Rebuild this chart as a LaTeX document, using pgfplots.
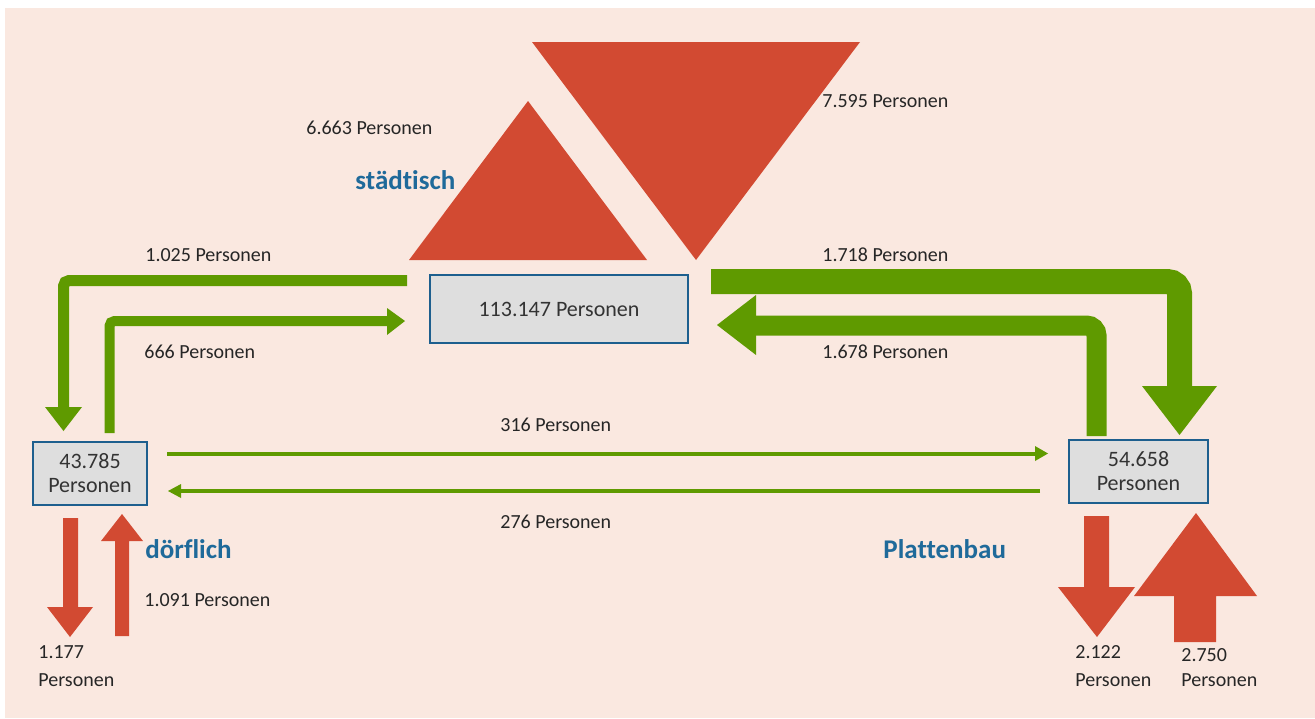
\documentclass[border=0pt]{standalone}
\usepackage{fontspec}
\setmainfont{Carlito}[Ligatures={NoCommon}]
\usepackage{pgfplots}
\pgfplotsset{compat=1.18}
\definecolor{bg}{HTML}{FAE8E0}
\definecolor{flowred}{HTML}{D24A32}
\definecolor{flowgreen}{HTML}{5F9A00}
\definecolor{labelblue}{HTML}{1F6A9A}
\definecolor{boxblue}{HTML}{1D5F8E}
\definecolor{boxgray}{HTML}{DEDEDE}
\begin{document}
\begin{tikzpicture}
\begin{axis}[scale only axis,width=657.5pt,height=359pt,
  xmin=0,xmax=1315,ymin=0,ymax=718,y dir=reverse,hide axis,clip=false]
% keep the full page frame in the bounding box
\addplot[draw=none] coordinates {(0,0)(1315,718)};
% background
\addplot[fill=bg,draw=none] coordinates {(5,8)(1315,8)(1315,718)(5,718)} --cycle;
% red triangles (städtisch)
\addplot[fill=flowred,draw=none] coordinates {(528,101)(647,260)(409,260)} --cycle;
\addplot[fill=flowred,draw=none] coordinates {(532,42)(860,42)(696,260)} --cycle;
% red arrows (dörflich, Plattenbau)
\addplot[fill=flowred,draw=none] coordinates {(63,518)(78,518)(78,607)(93,607)(70,637)(47,607)(63,607)} --cycle;
\addplot[fill=flowred,draw=none] coordinates {(115,636)(129,636)(129,541)(143,541)(122,514)(101,541)(115,541)} --cycle;
\addplot[fill=flowred,draw=none] coordinates {(1084,516)(1109,516)(1109,587)(1135,587)(1097,637)(1058,587)(1084,587)} --cycle;
\addplot[fill=flowred,draw=none] coordinates {(1174,642)(1216,642)(1216,596)(1257,596)(1196,513)(1134,596)(1174,596)} --cycle;
% green flows
\addplot[draw=flowgreen,line width=5.5pt,rounded corners=2.75pt] coordinates {(407,280.5)(63.5,280.5)(63.5,408)};
\addplot[fill=flowgreen,draw=none] coordinates {(45,407)(82,407)(63.5,431)} --cycle;
\addplot[draw=flowgreen,line width=5pt,rounded corners=2.5pt] coordinates {(109.5,433)(109.5,321)(390,321)};
\addplot[fill=flowgreen,draw=none] coordinates {(387,308)(405,321)(387,335)} --cycle;
\addplot[draw=flowgreen,line width=12.5pt,rounded corners=6pt] coordinates {(711,281.5)(1179.5,281.5)(1179.5,387)};
\addplot[fill=flowgreen,draw=none] coordinates {(1142,386)(1217,386)(1179.5,435)} --cycle;
\addplot[draw=flowgreen,line width=10pt,rounded corners=5pt] coordinates {(1096.5,436)(1096.5,325.5)(755,325.5)};
\addplot[fill=flowgreen,draw=none] coordinates {(756,295)(756,355)(717,325)} --cycle;
\addplot[draw=flowgreen,line width=2pt] coordinates {(167,453.5)(1037,453.5)};
\addplot[fill=flowgreen,draw=none] coordinates {(1035,446)(1048,453.5)(1035,461)} --cycle;
\addplot[draw=flowgreen,line width=2pt] coordinates {(1040,491)(178,491)};
\addplot[fill=flowgreen,draw=none] coordinates {(181,484)(168,491)(181,498)} --cycle;
% boxes
\addplot[fill=boxgray,draw=boxblue,line width=1.3pt] coordinates {(430,275)(688,275)(688,343)(430,343)} --cycle;
\addplot[fill=boxgray,draw=boxblue,line width=1.3pt] coordinates {(33,442)(147,442)(147,505)(33,505)} --cycle;
\addplot[fill=boxgray,draw=boxblue,line width=1.3pt] coordinates {(1069,440)(1208,440)(1208,503)(1069,503)} --cycle;
\node[font=\fontsize{11}{13}\selectfont,text=black!80] at (axis cs:559,309) {113.147 Personen};
\node[font=\fontsize{11}{13}\selectfont,text=black!80,align=center] at (axis cs:90,473.5) {43.785\\[-1pt]Personen};
\node[font=\fontsize{11}{13}\selectfont,text=black!80,align=center] at (axis cs:1138.5,471.5) {54.658\\[-1pt]Personen};
% labels
\tikzset{lab/.style={anchor=west,font=\fontsize{10}{14}\selectfont,text=black!85,inner sep=0pt}}
\tikzset{grp/.style={anchor=west,font=\bfseries\fontsize{13.5}{16}\selectfont,text=labelblue,inner sep=0pt}}
\node[lab] at (axis cs:306,128) {6.663 Personen};
\node[lab] at (axis cs:822,101) {7.595 Personen};
\node[grp] at (axis cs:355,180) {städtisch};
\node[lab] at (axis cs:145,255) {1.025 Personen};
\node[lab] at (axis cs:822,255) {1.718 Personen};
\node[lab] at (axis cs:144,352) {666 Personen};
\node[lab] at (axis cs:822,352) {1.678 Personen};
\node[lab] at (axis cs:500,425) {316 Personen};
\node[lab] at (axis cs:500,522) {276 Personen};
\node[grp] at (axis cs:145,549) {dörflich};
\node[grp] at (axis cs:883,549) {Plattenbau};
\node[lab] at (axis cs:144,600) {1.091 Personen};
\node[lab] at (axis cs:38,652) {1.177};
\node[lab] at (axis cs:38,680) {Personen};
\node[lab] at (axis cs:1075,652) {2.122};
\node[lab] at (axis cs:1075,680) {Personen};
\node[lab] at (axis cs:1181,655) {2.750};
\node[lab] at (axis cs:1181,680) {Personen};
\end{axis}
\end{tikzpicture}
\end{document}
